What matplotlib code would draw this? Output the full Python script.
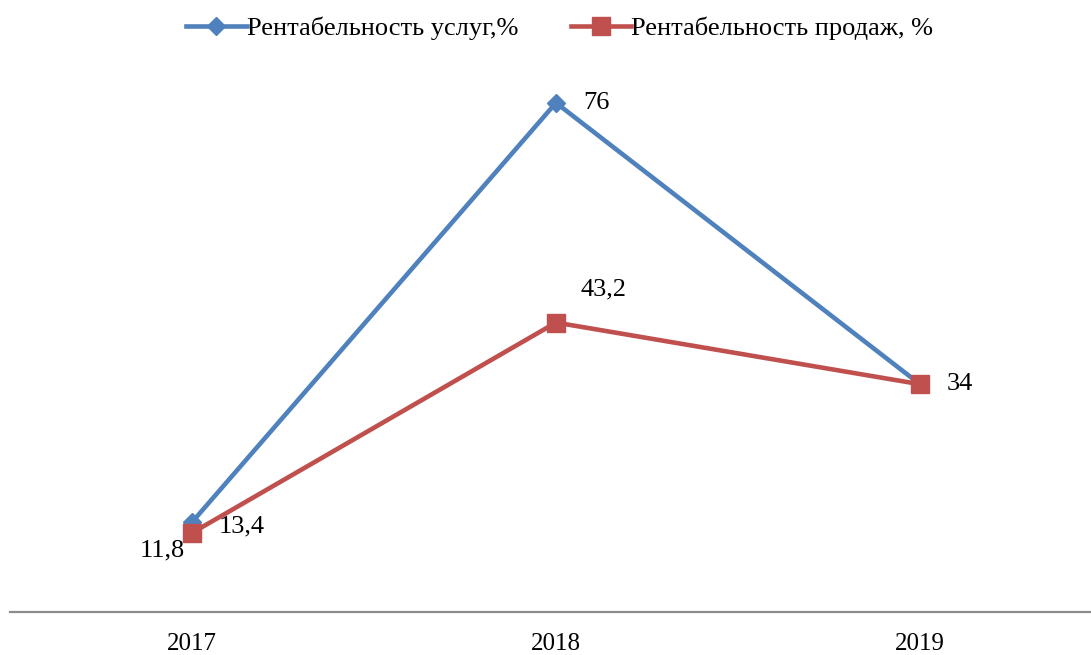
import matplotlib.pyplot as plt

plt.rcParams['font.family'] = ['Liberation Serif', 'DejaVu Serif']

# данные
years = ['2017', '2018', '2019']
services = [13.4, 76, 34]
sales = [11.8, 43.2, 34]
services_labels = ['13,4', '76', '']
sales_labels = ['11,8', '43,2', '34']

blue = '#4F81BD'
red = '#C0504D'

fig = plt.figure(figsize=(10.91, 6.55), dpi=100)
ax = fig.add_axes([10 / 1091, 43 / 655, 1 - 10 / 1091, 536 / 655])

x = list(range(len(years)))
ax.plot(x, services, color=blue, lw=3.3, marker='D', ms=9.5, label='Рентабельность услуг,%')
ax.plot(x, sales, color=red, lw=3.3, marker='s', ms=13, label='Рентабельность продаж, %')

ax.set_xlim(-0.5, 2.47)
ax.set_ylim(0, 80)

# подписи значений
fs = 19
ax.annotate(services_labels[0], (x[0], services[0]), xytext=(27, -4),
            textcoords='offset pixels', fontsize=fs, va='center', ha='left')
ax.annotate(services_labels[1], (x[1], services[1]), xytext=(27, 0),
            textcoords='offset pixels', fontsize=fs, va='center', ha='left')
ax.annotate(sales_labels[0], (x[0], sales[0]), xytext=(-7, -18),
            textcoords='offset pixels', fontsize=fs, va='center', ha='right')
ax.annotate(sales_labels[1], (x[1], sales[1]), xytext=(25, 33),
            textcoords='offset pixels', fontsize=fs, va='center', ha='left')
ax.annotate(sales_labels[2], (x[2], sales[2]), xytext=(27, 0),
            textcoords='offset pixels', fontsize=fs, va='center', ha='left')

ax.set_xticks(x)
ax.set_xticklabels(years, fontsize=18)
ax.set_yticks([])
ax.tick_params(axis='x', length=0, pad=15)
for s in ['top', 'left', 'right']:
    ax.spines[s].set_visible(False)
ax.spines['bottom'].set_color('#8C8C8C')
ax.spines['bottom'].set_linewidth(1.6)

fig.legend(loc='center', bbox_to_anchor=(0.513, 0.957), ncol=2, frameon=False,
           fontsize=fs, handlelength=2.3, handletextpad=0.0, columnspacing=2.0)

fig.savefig('out.png', dpi=100)
